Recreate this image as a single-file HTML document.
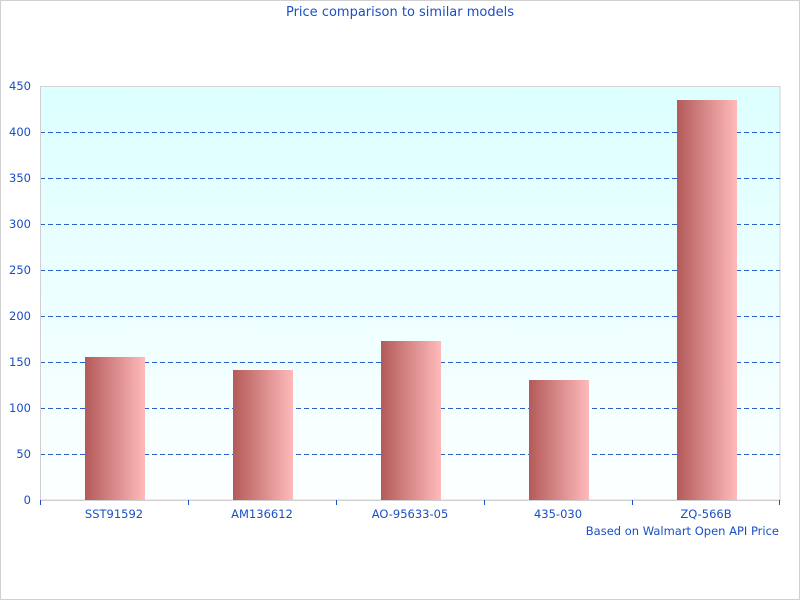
<!DOCTYPE html>
<html><head><style>body{margin:0}svg{display:block}</style></head><body>
<svg width="800" height="600" xmlns="http://www.w3.org/2000/svg" font-family="DejaVu Sans, sans-serif" font-size="11.5" fill="#1a4fc4">
<defs>
<linearGradient id="bg" x1="0" y1="0" x2="0" y2="1"><stop offset="0" stop-color="#dcffff"/><stop offset="1" stop-color="#fdffff"/></linearGradient>
<linearGradient id="bar" x1="0" y1="0" x2="1" y2="0"><stop offset="0" stop-color="#b35a5a"/><stop offset="1" stop-color="#ffbaba"/></linearGradient>
</defs>
<rect x="0.5" y="0.5" width="799" height="599" fill="#fff" stroke="#d0d0d0"/>
<text x="400" y="16" text-anchor="middle" font-size="13">Price comparison to similar models</text>
<rect x="40.5" y="86.5" width="739.5" height="413.5" fill="url(#bg)" stroke="#d6d6d6"/>
<g stroke="#2a5fd0" stroke-dasharray="5,3" stroke-width="1">
<line x1="40" y1="132.5" x2="780" y2="132.5"/>
<line x1="40" y1="178.5" x2="780" y2="178.5"/>
<line x1="40" y1="224.5" x2="780" y2="224.5"/>
<line x1="40" y1="270.5" x2="780" y2="270.5"/>
<line x1="40" y1="316.5" x2="780" y2="316.5"/>
<line x1="40" y1="362.5" x2="780" y2="362.5"/>
<line x1="40" y1="408.5" x2="780" y2="408.5"/>
<line x1="40" y1="454.5" x2="780" y2="454.5"/>
</g>
<line x1="40" y1="500.5" x2="780" y2="500.5" stroke="#d0d0d0"/>
<line x1="40.5" y1="86" x2="40.5" y2="500" stroke="#d0d0d0"/>
<g fill="url(#bar)">
<rect x="85" y="357" width="60" height="143"/>
<rect x="233" y="370" width="60" height="130"/>
<rect x="381" y="341" width="60" height="159"/>
<rect x="529" y="380" width="60" height="120"/>
<rect x="677" y="100" width="60" height="400"/>
</g>
<g stroke="#1a4fc4">
<line x1="40.5" y1="500" x2="40.5" y2="505"/>
<line x1="188.5" y1="500" x2="188.5" y2="505"/>
<line x1="336.5" y1="500" x2="336.5" y2="505"/>
<line x1="484.5" y1="500" x2="484.5" y2="505"/>
<line x1="632.5" y1="500" x2="632.5" y2="505"/>
<line x1="779.5" y1="500" x2="779.5" y2="505"/>
</g>
<g text-anchor="end">
<text x="31" y="90">450</text><text x="31" y="136">400</text><text x="31" y="182">350</text>
<text x="31" y="228">300</text><text x="31" y="274">250</text><text x="31" y="320">200</text>
<text x="31" y="366">150</text><text x="31" y="412">100</text><text x="31" y="458">50</text>
<text x="31" y="504">0</text>
</g>
<g text-anchor="middle">
<text x="114" y="518">SST91592</text><text x="262" y="518">AM136612</text>
<text x="410" y="518">AO-95633-05</text><text x="558" y="518">435-030</text>
<text x="706" y="518">ZQ-566B</text>
</g>
<text x="779" y="535" text-anchor="end">Based on Walmart Open API Price</text>
</svg>
</body></html>
